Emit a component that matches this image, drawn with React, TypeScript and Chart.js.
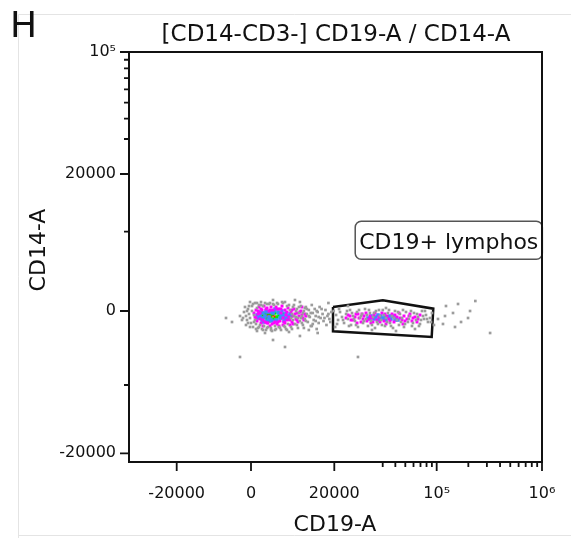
import React, { useEffect, useRef } from 'react';
import { Chart, LinearScale, registerables } from 'chart.js';

// ---------------- Axis definitions ----------------
const xMajorTicks = [-20000, 0, 20000, 100000, 1000000];
const xMajorLabels = ['-20000', '0', '20000', '10⁵', '10⁶'];
const xMinorTicks = [30000, 40000, 50000, 60000, 70000, 80000, 90000, 200000, 300000, 400000, 500000, 600000, 700000, 800000, 900000];
const yMajorTicks = [-20000, 0, 20000, 100000];
const yMajorLabels = ['-20000', '0', '20000', '10⁵'];
const yMinorTicks = [-10000, 10000, 30000, 40000, 50000, 60000, 70000, 80000, 90000];

// biexponential display: anchor values and their relative position on the axis
const xAnchorValues = [-20000, 0, 20000, 30000, 100000, 1000000];
const xAnchorPos = [0.1155, 0.2954, 0.4971, 0.6143, 0.745, 1];
const yAnchorValues = [-20000, -10000, 0, 10000, 20000, 30000, 100000];
const yAnchorPos = [0.0212, 0.1878, 0.3683, 0.5617, 0.7024, 0.7878, 1];
const xRange = [-53000, 1000000];
const yRange = [-21650, 100000];

// ---------------- Events (CD19-A, CD14-A) ----------------
const grayEvents: [number, number][] = [
  [-1364, -120], [-973, -596], [-778, -1073], [-583, 222], [-389, -357], [-194, -834], [0, -1433], [173, 555], [173, 0],
  [347, -1916], [520, -476], [694, 890], [694, -1073], [868, -1554], [1042, 333], [1216, -2038], [1391, 667], [1566, -1675],
  [1742, 1000], [1919, -2160], [2096, 555], [2273, -1795], [2630, -2281], [2810, 780], [2990, -1916], [3354, 890], [3538, -2038],
  [3722, -2404], [4095, 667], [4283, -1795], [4472, -2160], [4854, 780], [5048, -1916], [5439, -2281], [5836, 890], [6037, -1795],
  [6445, -2160], [6652, 555], [6860, -1554], [7283, 111], [7499, -1916], [7715, -357], [7935, -1073], [8155, 667], [8380, -1554],
  [8604, -715], [8833, 222], [9063, -2038], [9297, -238], [9532, -1193], [9772, 555], [10012, -596], [10257, -1675], [10503, 0],
  [10754, -953], [11005, 445], [11262, -357], [11520, -1313], [11784, 111], [12048, -715], [12318, -1795], [12589, 667],
  [12866, -238], [13144, -1073], [13430, 222], [13715, -596], [14300, -120], [14600, -1433], [14900, 445], [15209, -834],
  [15835, -357], [16152, -1193], [16800, 111], [17477, -596], [18168, -953], [18880, -120], [17138, -1675], [14008, -2160],
  [11784, -2281], [7071, -2526], [2451, -2650], [1042, -2404], [-973, -1675], [-194, 1000], [6240, 1000], [9532, 1000],
  [12589, -1795], [3908, 1225], [8380, 1225], [-2154, -596], [-1758, -1073],
  [-778, 0], [-389, 555], [-194, -1916], [347, 780], [520, -1313], [868, -2160], [1042, 890], [1391, -1916], [1742, 667],
  [2096, -2281], [2451, 890], [2810, -2038], [3172, 780], [3538, -2281], [3908, 780], [4283, -2281], [4663, 890], [5242, -2038],
  [5636, 1000], [6240, -1916], [6652, -2281], [7071, 667], [7715, -2160], [8155, -596], [8604, 0], [8833, -1675], [9297, 445],
  [9772, -834], [10257, -238], [10503, -2038], [11005, -1193], [11262, 222], [11784, -596], [12318, -238], [12866, -1554],
  [13715, -1193], [14008, 0], [14600, -715], [15518, 222], [16470, -834], [17820, -357], [18520, -1313], [9063, -834],
  [10012, -1433], [10754, 333], [7499, -834], [7935, 445], [-583, -1433], [-1170, 445], [-1560, -834],
  [20306, -476], [20660, -1073], [21010, -120], [21370, -715], [21745, -1433], [22120, -357], [22490, -953], [22875, 111],
  [23070, -1675], [23460, -596], [23860, -1193], [24260, -120], [24460, -1916], [24880, -834], [25300, -357], [25510, -1433],
  [25935, 222], [26150, -953], [26580, -1795], [27020, -238], [27245, -1193], [27700, -715], [28160, -2038], [28390, 0],
  [28860, -1554], [29340, -596], [29575, -1073], [30050, 111], [31620, -1795], [32350, -834], [33860, -238], [35430, -1433],
  [37080, -596], [37930, -2038], [39680, 0], [41500, -1073], [43400, -1675], [44390, -357], [46420, -834], [48550, -1916],
  [50760, -120], [53060, -1313], [55470, -596], [57990, -1795], [60620, -238], [63360, -1073], [66220, -715], [69220, -1554],
  [72350, 0], [75610, -953], [79020, -476], [82570, -1313], [86290, -834], [90170, -238], [94220, -1675], [22490, 555],
  [27470, -2281], [40580, -2404], [61980, -2160], [32350, 333],
  [19770, 0], [20480, -1554], [20835, 222], [21560, -1073], [22300, 0], [22680, -1795], [23266, -238], [23660, -953],
  [24060, -1675], [24670, 111], [25090, -596], [25720, -1193], [26360, -476], [26800, 111], [27470, -1675], [27930, -238],
  [28620, -1313], [29100, 111], [29810, -1675], [30900, -476], [33100, -1313], [34640, 111], [36250, -1795], [38790, -834],
  [42450, -120], [45400, -1313], [47480, 111], [49660, -1554], [54250, -953], [56720, 0], [59300, -1433], [64800, -357],
  [67700, -1795], [74000, -596], [80800, -953], [88200, -1313], [77300, 0], [70800, -1073],
  [-2154, -5754], [6240, -4418], [3908, -3522], [24460, -5754], [321800, -2650], [159600, 780], [143000, -238],
  [120000, -596], [207600, 0], [114800, -1554], [122600, 555], [170500, -1313], [102900, -953], [17820, 890], [20150, -1916],
  [-5050, -834], [-3777, -1313], [9532, -3020], [14300, -2650], [149400, -1916], [198700, -834], [233000, 1113],
];

const magentaEvents: [number, number][] = [
  [520, -238], [694, -715], [868, 111], [1042, -1193], [1216, -357], [1391, 445], [1566, -953], [1742, -1433], [1919, 111],
  [2273, 555], [2451, -1313], [2810, 333], [2990, -1433], [3172, 0], [3538, 445], [3722, -1554], [3908, 111], [4283, -1313],
  [4472, 445], [4663, -1554], [5048, 222], [5242, -1193], [5439, -238], [5636, 555], [5836, -834], [6037, -1313], [6240, 111],
  [6445, -476], [6652, -1073], [6860, 333], [7071, -715], [7499, -120], [7715, -1313], [7935, -596], [8155, 222], [8604, -953],
  [8833, -238], [9297, -596], [9772, 0], [10257, -834], [10754, -357], [9063, -1313], [7283, -1675], [3354, -1795],
  [2096, -1795], [5048, -1795], [10012, 445],
  [868, -834], [1216, 0], [1566, -238], [1742, 222], [2096, -1073], [2630, 222], [2810, -1433], [3354, 111], [4095, -1433],
  [4663, 222], [4854, -1313], [5439, 222], [6240, -1433], [6652, -120], [7283, -1073], [7715, 111], [8380, -357], [8833, -1073],
  [9532, -120], [10012, -476], [10503, -1073], [11005, -596], [7935, -1554], [5836, -1675],
  [22120, -834], [22875, -596], [23460, -1073], [24060, -357], [24670, -834], [25090, -1313], [25720, -596], [26150, -238],
  [26800, -953], [27245, -1433], [27930, -476], [28620, -1073], [29100, -715], [29810, -238], [30900, -1193], [33100, -596],
  [34640, -953], [37080, -357], [38790, -1313], [41500, -715], [43400, -238], [46420, -1073], [48550, -596], [51900, -953],
  [55470, -357], [57990, -1193], [61980, -715], [66220, -953], [69220, -476], [24260, -1433], [32350, -1554], [47480, -1554],
  [27470, -834], [25300, -357],
  [22490, -476], [23070, -1073], [23860, -715], [24460, -357], [25510, -953], [26360, -1193], [27020, -596], [27700, -1313],
  [28160, -238], [29340, -1313], [31620, -357], [35430, -1193], [39680, -476], [44390, -834], [49660, -1193], [54250, -596],
  [59300, -834], [64800, -1313],
];

const blueEvents: [number, number][] = [
  [1042, -476], [1216, -834], [1391, -120], [1566, -596], [1919, -1073], [2096, -238], [2273, -834], [2630, 0], [2990, -1073],
  [3354, -120], [3722, -1193], [4095, 0], [4472, -1073], [4854, -120], [5242, -834], [5636, 0], [5836, -476], [6240, -953],
  [6445, -238], [6860, -596], [7283, -357], [2630, -1313], [4283, 222], [6037, -1193], [7071, -953],
  [1742, -834], [2451, -596], [2810, -120], [3172, -715], [3538, -1073], [3908, -238], [4663, -1193], [5048, -238],
  [5439, -596], [6037, -715], [6652, -834], [7499, -596], [3538, 0], [2096, -1313],
  [26580, -834], [27245, -596], [27930, -953], [28390, -715], [29100, -1073], [29575, -596], [30200, -834], [32350, -1073],
  [33860, -715], [36250, -953], [37930, -596], [40580, -834], [42450, -1073], [28860, -476],
  [27020, -953], [28160, -834], [29340, -834], [31620, -715], [35430, -596], [39680, -1073], [30900, -953],
];

const greenEvents: [number, number][] = [
  [1742, -596], [1919, -238], [2273, -715], [2451, -357], [2810, -953], [2990, -238], [3354, -715], [3722, -357], [3908, -953],
  [4283, -238], [4663, -715], [5048, -476], [5439, -834], [5836, -357], [3172, -1193], [4472, -1073],
];

const redEvents: [number, number][] = [
  [2096, -476], [2451, -715], [2810, -476], [3172, -357], [3538, -596], [3908, -476], [4283, -715], [2990, -834], [2630, -238],
];

// Gate "CD19+ lymphos" vertices
const gateX = [19500, 30100, 92800, 89600, 19500, 19500];
const gateY = [445, 1190, 260, -3150, -2440, 445];
const gateName = 'CD19+ lymphos';
const gateLabelAt = [23900, 11500];

const plotTitle = '[CD14-CD3-] CD19-A / CD14-A';
const xTitle = 'CD19-A';
const yTitle = 'CD14-A';
const panelLetter = 'H';

// ---------------- Custom biexponential scale ----------------
const AXES: Record<string, { values: number[]; pos: number[]; major: number[]; labels: string[]; minor: number[] }> = {
  x: { values: xAnchorValues, pos: xAnchorPos, major: xMajorTicks, labels: xMajorLabels, minor: xMinorTicks },
  y: { values: yAnchorValues, pos: yAnchorPos, major: yMajorTicks, labels: yMajorLabels, minor: yMinorTicks },
};
const warp = (v: number) => Math.asinh(v / 10000);
const unwarp = (w: number) => Math.sinh(w) * 10000;

class BiexScale extends LinearScale {
  static id = 'biex';
  static defaults = {};
  axisDef() {
    return AXES[(this as any).id];
  }
  toDecimal(v: number) {
    const a = this.axisDef();
    const n = a.values.length;
    const w = warp(v);
    let i = 0;
    while (i < n - 2 && w > warp(a.values[i + 1])) i++;
    const w0 = warp(a.values[i]);
    const w1 = warp(a.values[i + 1]);
    return a.pos[i] + ((w - w0) / (w1 - w0)) * (a.pos[i + 1] - a.pos[i]);
  }
  fromDecimal(d: number) {
    const a = this.axisDef();
    const n = a.values.length;
    let i = 0;
    while (i < n - 2 && d > a.pos[i + 1]) i++;
    const w0 = warp(a.values[i]);
    const w1 = warp(a.values[i + 1]);
    return unwarp(w0 + ((d - a.pos[i]) / (a.pos[i + 1] - a.pos[i])) * (w1 - w0));
  }
  determineDataLimits() {
    const o: any = (this as any).options;
    (this as any).min = o.min;
    (this as any).max = o.max;
  }
  buildTicks() {
    const a = this.axisDef();
    return [...a.major, ...a.minor].sort((p, q) => p - q).map((v) => ({ value: v }));
  }
  getPixelForValue(v: number) {
    return (this as any).getPixelForDecimal(this.toDecimal(v));
  }
  getValueForPixel(p: number) {
    return this.fromDecimal((this as any).getDecimalForPixel(p));
  }
}

Chart.register(...registerables, BiexScale as any);

const FONT = 'DejaVu Sans';

const decorPlugin = {
  id: 'decor',
  afterDraw(chart: any) {
    const { ctx, chartArea } = chart;
    const xs = chart.scales.x;
    const ys = chart.scales.y;
    const { left, right, top, bottom } = chartArea;
    ctx.save();

    // faint frame
    ctx.strokeStyle = '#e4e4e4';
    ctx.lineWidth = 1;
    ctx.beginPath();
    ctx.moveTo(18.5, 538);
    ctx.lineTo(18.5, 14.5);
    ctx.lineTo(571, 14.5);
    ctx.moveTo(18.5, 535.5);
    ctx.lineTo(571, 535.5);
    ctx.stroke();

    // gate label
    const lx = xs.getPixelForValue(gateLabelAt[0]);
    const ly = ys.getPixelForValue(gateLabelAt[1]);
    ctx.font = `22px "${FONT}"`;
    const tw = ctx.measureText(gateName).width;
    ctx.beginPath();
    (ctx as any).roundRect(lx, ly, tw + 8, 38, 6);
    ctx.fillStyle = '#ffffff';
    ctx.fill();
    ctx.strokeStyle = '#555555';
    ctx.lineWidth = 1.5;
    ctx.stroke();
    ctx.fillStyle = '#111111';
    ctx.textAlign = 'left';
    ctx.textBaseline = 'alphabetic';
    ctx.fillText(gateName, lx + 4, ly + 28);

    // plot box
    ctx.strokeStyle = '#111111';
    ctx.lineWidth = 2;
    ctx.strokeRect(left, top, right - left, bottom - top);

    // tick marks
    ctx.lineWidth = 1.8;
    ctx.beginPath();
    AXES.x.major.forEach((v) => {
      const p = xs.getPixelForValue(v);
      ctx.moveTo(p, bottom);
      ctx.lineTo(p, bottom + 9);
    });
    AXES.x.minor.forEach((v) => {
      const p = xs.getPixelForValue(v);
      ctx.moveTo(p, bottom);
      ctx.lineTo(p, bottom + 5);
    });
    AXES.y.major.forEach((v) => {
      const p = ys.getPixelForValue(v);
      ctx.moveTo(left, p);
      ctx.lineTo(left - 9, p);
    });
    AXES.y.minor.forEach((v) => {
      const p = ys.getPixelForValue(v);
      ctx.moveTo(left, p);
      ctx.lineTo(left - 5, p);
    });
    ctx.stroke();

    // texts
    ctx.fillStyle = '#111111';
    ctx.font = `36px "${FONT}"`;
    ctx.textAlign = 'left';
    ctx.textBaseline = 'alphabetic';
    ctx.fillText(panelLetter, 10, 37);

    ctx.font = `23px "${FONT}"`;
    ctx.textAlign = 'center';
    ctx.fillText(plotTitle, 336, 41);
    ctx.font = `22px "${FONT}"`;
    ctx.fillText(xTitle, 335, 531);

    ctx.save();
    ctx.translate(45, 250);
    ctx.rotate(-Math.PI / 2);
    ctx.textAlign = 'center';
    ctx.textBaseline = 'alphabetic';
    ctx.fillText(yTitle, 0, 0);
    ctx.restore();

    ctx.restore();
  },
};

const toPoints = (arr: [number, number][]) => arr.map(([x, y]) => ({ x, y }));

const dotSet = (data: [number, number][], color: string, r: number) => ({
  data: toPoints(data),
  backgroundColor: color,
  borderWidth: 0,
  pointStyle: 'rect',
  pointRadius: r,
  pointBorderWidth: 0,
  showLine: false,
});

const labelFor = (axis: 'x' | 'y') => (value: number) => {
  const a = AXES[axis];
  const i = a.major.indexOf(value);
  return i >= 0 ? a.labels[i] : '';
};

export default function App() {
  const ref = useRef<HTMLCanvasElement | null>(null);
  useEffect(() => {
    if (!ref.current) return;
    const chart = new Chart(ref.current, {
      type: 'scatter',
      data: {
        datasets: [
          dotSet(grayEvents, '#9c9c9c', 1.9),
          dotSet(magentaEvents, '#ff00ff', 2.1),
          dotSet(blueEvents, '#3d8cff', 2.5),
          dotSet(greenEvents, '#00f000', 2.4),
          dotSet(redEvents, '#ff1a00', 2.1),
          {
            data: gateX.map((x, i) => ({ x, y: gateY[i] })),
            showLine: true,
            borderColor: '#111111',
            borderWidth: 2.5,
            pointRadius: 0,
            fill: false,
            tension: 0,
          } as any,
        ],
      },
      options: {
        animation: false,
        responsive: false,
        devicePixelRatio: 1,
        events: [],
        layout: { padding: { left: 0, right: 29, top: 52, bottom: 0 } },
        plugins: { legend: { display: false }, tooltip: { enabled: false }, title: { display: false } },
        scales: {
          x: {
            type: 'biex' as any,
            min: xRange[0],
            max: xRange[1],
            grid: { display: false, drawTicks: false },
            border: { display: false },
            ticks: {
              autoSkip: false,
              maxRotation: 0,
              padding: 22,
              color: '#111111',
              font: { family: FONT, size: 16 },
              callback: labelFor('x') as any,
            },
            afterFit: (s: any) => {
              s.height = 77;
              s.paddingLeft = 0;
              s.paddingRight = 0;
            },
          },
          y: {
            type: 'biex' as any,
            min: yRange[0],
            max: yRange[1],
            grid: { display: false, drawTicks: false },
            border: { display: false },
            ticks: {
              autoSkip: false,
              padding: 13,
              color: '#111111',
              font: { family: FONT, size: 16 },
              callback: labelFor('y') as any,
            },
            afterFit: (s: any) => {
              s.width = 129;
              s.paddingTop = 0;
              s.paddingBottom = 0;
            },
          },
        } as any,
      },
      plugins: [decorPlugin],
    });
    return () => chart.destroy();
  }, []);
  return (
    <div style={{ position: 'absolute', left: 0, top: 0, width: 571, height: 539, background: '#fff' }}>
      <canvas ref={ref} width={571} height={539} style={{ display: 'block', width: 571, height: 539 }} />
    </div>
  );
}
